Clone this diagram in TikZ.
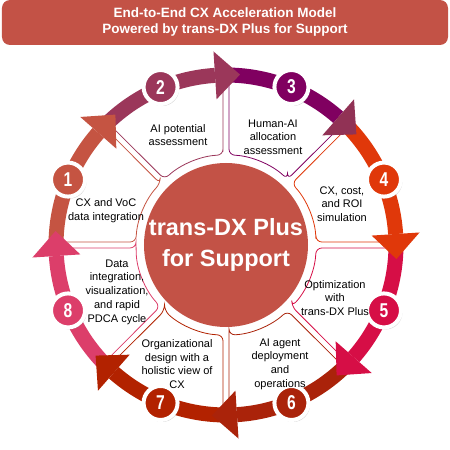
\documentclass[tikz,border=0pt]{standalone}
\usepackage{fontspec}
\setmainfont{Liberation Sans}
\usetikzlibrary{shadows}
\definecolor{titlered}{RGB}{195,82,70}
\definecolor{segA}{RGB}{197,84,66}
\definecolor{segB}{RGB}{155,55,90}
\definecolor{segC}{RGB}{128,0,96}
\definecolor{segCtip}{RGB}{145,50,85}
\definecolor{segD}{RGB}{224,56,10}
\definecolor{segE}{RGB}{214,14,70}
\definecolor{segF}{RGB}{170,35,10}
\definecolor{segG}{RGB}{178,34,0}
\definecolor{segH}{RGB}{220,62,106}
\begin{document}
\begin{tikzpicture}[x=1pt,y=1pt,
    sector/.style={fill=white,line width=0.8,rounded corners=6},
    band/.style={line width=15},
    numdisc/.style={circle,draw=white,line width=4,minimum size=34,inner sep=0,
      text=white,font=\bfseries\fontsize{20}{20}\selectfont,
      drop shadow={shadow xshift=1.5,shadow yshift=-2,opacity=0.35}},
    steptext/.style={align=center,inner sep=0,font=\fontsize{11}{13.7}\selectfont}]
  \useasboundingbox (-226,-205) rectangle (224,245);
  % title
  \node[fill=titlered,rounded corners=8,minimum width=446,minimum height=45,
    text=white,align=center,font=\bfseries\fontsize{13.5}{16}\selectfont]
    (title) at (-1,222.5) {End-to-End CX Acceleration Model\\Powered by trans-DX Plus for Support};
  % sectors
  \draw[sector,draw=segA] (136.9:90) -- (136:168) arc[start angle=136,end angle=179,radius=168] -- (178.1:90) arc[start angle=178.1,end angle=136.9,radius=90] -- cycle;
  \draw[sector,draw=segB] (91.9:90) -- (91:168) arc[start angle=91,end angle=134,radius=168] -- (133.1:90) arc[start angle=133.1,end angle=91.9,radius=90] -- cycle;
  \draw[sector,draw=segC] (46.9:90) -- (46:168) arc[start angle=46,end angle=89,radius=168] -- (88.1:90) arc[start angle=88.1,end angle=46.9,radius=90] -- cycle;
  \draw[sector,draw=segD] (1.9:90) -- (1:168) arc[start angle=1,end angle=44,radius=168] -- (43.1:90) arc[start angle=43.1,end angle=1.9,radius=90] -- cycle;
  \draw[sector,draw=segE] (-43.1:90) -- (-44:168) arc[start angle=-44,end angle=-1,radius=168] -- (-1.9:90) arc[start angle=-1.9,end angle=-43.1,radius=90] -- cycle;
  \draw[sector,draw=segF] (-88.1:90) -- (-89:168) arc[start angle=-89,end angle=-46,radius=168] -- (-46.9:90) arc[start angle=-46.9,end angle=-88.1,radius=90] -- cycle;
  \draw[sector,draw=segG] (-133.1:90) -- (-134:168) arc[start angle=-134,end angle=-91,radius=168] -- (-91.9:90) arc[start angle=-91.9,end angle=-133.1,radius=90] -- cycle;
  \draw[sector,draw=segH] (-178.1:90) -- (-179:168) arc[start angle=-179,end angle=-136,radius=168] -- (-136.9:90) arc[start angle=-136.9,end angle=-178.1,radius=90] -- cycle;
  % hub
  \node[circle,fill=titlered,minimum size=164,inner sep=0,text=white,align=center,
    font=\bfseries\fontsize{23.5}{31}\selectfont] (hub) at (0,0) {trans-DX Plus\\for Support};
  % ring
  \begin{scope}[band]
    \draw[segA] (182:170) arc[start angle=182,end angle=138.7,radius=170];
    \draw[segB] (137:170) arc[start angle=137,end angle=93.7,radius=170];
    \draw[segC] (92:170) arc[start angle=92,end angle=48.7,radius=170];
    \draw[segD] (47:170) arc[start angle=47,end angle=3.7,radius=170];
    \draw[segE] (2:170) arc[start angle=2,end angle=-41.3,radius=170];
    \draw[segF] (-43:170) arc[start angle=-43,end angle=-86.3,radius=170];
    \draw[segG] (-88:170) arc[start angle=-88,end angle=-131.3,radius=170];
    \draw[segH] (-133:170) arc[start angle=-133,end angle=-176.3,radius=170];
  \end{scope}
  % arrow heads
  \fill[segA] (138.7:146) -- (138.7:194) -- (130.3:171) -- cycle;
  \fill[segB] (93.7:146) -- (93.7:194) -- (85.3:171) -- cycle;
  \fill[segCtip] (48.7:146) -- (48.7:194) -- (40.3:171) -- cycle;
  \fill[segD] (3.7:146) -- (3.7:194) -- (-4.7:171) -- cycle;
  \fill[segE] (-41.3:146) -- (-41.3:194) -- (-49.7:171) -- cycle;
  \fill[segF] (-86.3:146) -- (-86.3:194) -- (-94.7:171) -- cycle;
  \fill[segG] (-131.3:146) -- (-131.3:194) -- (-139.7:171) -- cycle;
  \fill[segH] (-176.3:146) -- (-176.3:194) -- (175.3:171) -- cycle;
  % numbers
  \node[numdisc,fill=segA] (n1) at (157.5:171) {\scalebox{0.78}[1]{1}};
  \node[numdisc,fill=segB] (n2) at (112.5:171) {\scalebox{0.78}[1]{2}};
  \node[numdisc,fill=segC] (n3) at (67.5:171) {\scalebox{0.78}[1]{3}};
  \node[numdisc,fill=segD] (n4) at (22.5:171) {\scalebox{0.78}[1]{4}};
  \node[numdisc,fill=segE] (n5) at (-22.5:171) {\scalebox{0.78}[1]{5}};
  \node[numdisc,fill=segF] (n6) at (-67.5:171) {\scalebox{0.78}[1]{6}};
  \node[numdisc,fill=segG] (n7) at (-112.5:171) {\scalebox{0.78}[1]{7}};
  \node[numdisc,fill=segH] (n8) at (-157.5:171) {\scalebox{0.78}[1]{8}};
  % step texts
  \node[steptext] (t1) at (-120,34) {CX and VoC\\data integration};
  \node[steptext] (t2) at (-48,110) {AI potential\\assessment};
  \node[steptext] (t3) at (47,108) {Human-AI\\allocation\\assessment};
  \node[steptext] (t4) at (116,41) {CX, cost,\\and ROI\\simulation};
  \node[steptext] (t5) at (109,-53) {Optimization\\with\\trans-DX Plus};
  \node[steptext] (t6) at (54,-119) {AI agent\\deployment\\and\\operations};
  \node[steptext] (t7) at (-49,-119) {Organizational\\design with a\\holistic view of\\CX};
  \node[steptext] (t8) at (-109,-47) {Data\\integration,\\visualization,\\and rapid\\PDCA cycle};
\end{tikzpicture}
\end{document}
